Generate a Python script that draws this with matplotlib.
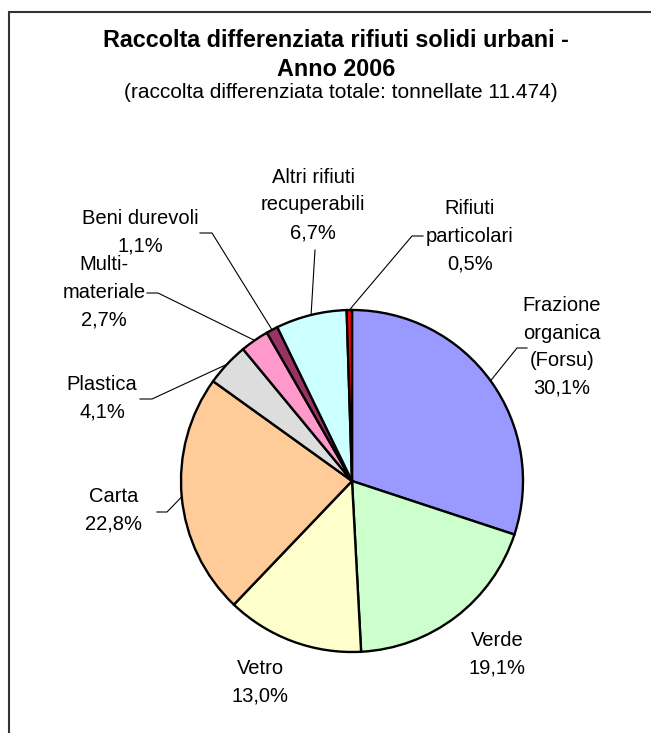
import numpy as np
import matplotlib.pyplot as plt
from matplotlib.patches import Rectangle

plt.rcParams['font.family'] = ['Liberation Sans', 'DejaVu Sans']

# data
categories = ['Frazione\norganica\n(Forsu)', 'Verde', 'Vetro', 'Carta', 'Plastica',
              'Multi-\nmateriale', 'Beni durevoli', 'Altri rifiuti\nrecuperabili',
              'Rifiuti\nparticolari']
percent = [30.1, 19.1, 13.0, 22.8, 4.1, 2.7, 1.1, 6.7, 0.5]
colors = ['#9999FF', '#CCFFCC', '#FFFFCC', '#FFCC99', '#DDDDDD',
          '#FF99CC', '#993366', '#CCFFFF', '#FF0000']
title = 'Raccolta differenziata rifiuti solidi urbani -\nAnno 2006'
subtitle = '(raccolta differenziata totale: tonnellate 11.474)'

# layout (pixels, origin top-left)
W, H = 651, 733
cx, cy, R = 352, 481, 171
label_pos = [(562, 347), (497, 654), (260, 682), (114, 510), (102, 398),
             (104, 292), (140, 232), (313, 205), (470, 236)]
# leader start point at the label side and length of the short horizontal piece
leader = [((527, 348), -10), None, None, ((157, 512), 10), ((140, 399), 12),
          ((147, 293), 11), ((200, 233), 12), ((315, 250), 0), ((423, 236), -11)]


def P(x, y):
    return x, H - y


fig = plt.figure(figsize=(W / 100, H / 100), dpi=100)
ax = fig.add_axes([0, 0, 1, 1])

wedges, _ = ax.pie(percent, colors=colors, startangle=90, counterclock=False,
                   center=P(cx, cy), radius=R,
                   wedgeprops=dict(edgecolor='black', linewidth=1.7))

for i, w in enumerate(wedges):
    txt = categories[i] + '\n' + ('%.1f%%' % percent[i]).replace('.', ',')
    ax.text(*P(*label_pos[i]), txt, ha='center', va='center', fontsize=14.5,
            linespacing=1.57, color='black')
    if leader[i] is not None:
        (sx, sy), dx = leader[i]
        ang = np.deg2rad((w.theta1 + w.theta2) / 2)
        ex, ey = w.center[0] + R * np.cos(ang), w.center[1] + R * np.sin(ang)
        x0, y0 = P(sx, sy)
        ax.plot([x0, x0 + dx, ex], [y0, y0, ey], color='black', lw=0.8)

ax.text(*P(336, 55), title, ha='center', va='center', fontsize=16.8,
        fontweight='bold', linespacing=1.3)
ax.text(*P(341, 92), subtitle, ha='center', va='center', fontsize=15)

ax.add_patch(Rectangle(P(9, 760), 700, 760 - 12, fill=False,
                       edgecolor='#333333', linewidth=1.5))

ax.set_xlim(0, W)
ax.set_ylim(0, H)
ax.set_aspect('auto')
ax.axis('off')

plt.savefig('out.png', dpi=100)
